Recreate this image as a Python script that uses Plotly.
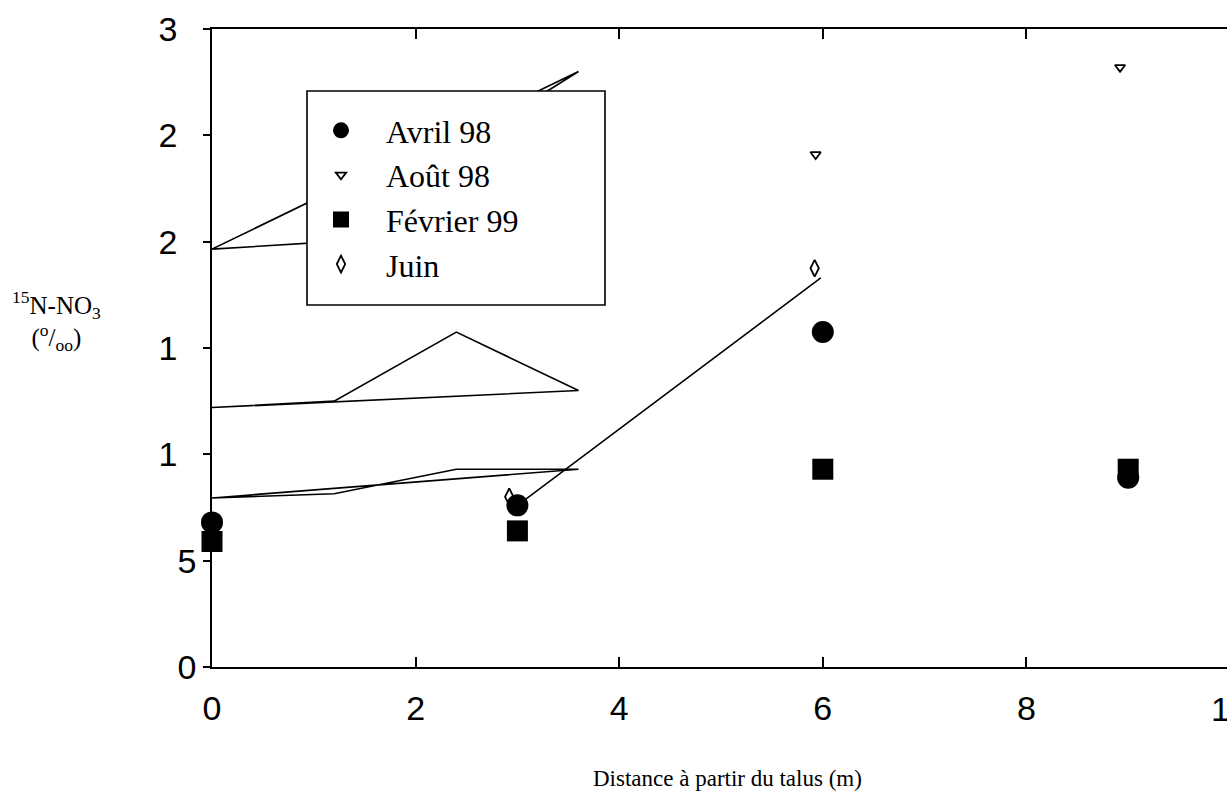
import plotly.graph_objects as go

# ---- data ----
avril_x = [0, 3, 6, 9]
avril_y = [6.8, 7.6, 15.75, 8.9]

aout_x = [-0.07, 5.93, 8.92]
aout_y = [7.45, 24.1, 28.2]

fevrier_x = [0, 3, 6, 9]
fevrier_y = [5.9, 6.4, 9.3, 9.3]

juin_x = [2.92, 5.92]
juin_y = [8.0, 18.75]

# fitted line near Juin
fit_x = [3.07, 5.98]
fit_y = [7.85, 18.3]

# closed polyline shapes drawn on the chart
poly_x = [0, 1.2, 2.4, 3.6, 0]
poly_low_y = [7.95, 8.15, 9.3, 9.3, 7.95]
poly_mid_y = [12.2, 12.5, 15.75, 13.0, 12.2]
poly_up_y = [19.65, 20.0, 24.4, 28.0, 19.65]

y_tickvals = [0, 5, 10, 15, 20, 25, 30]
y_ticktext = ["0", "5", "1\u2007", "1\u2007", "2\u2007", "2\u2007", "3\u2007"]
x_tickvals = [0, 2, 4, 6, 8]
x_ticktext = ["0", "2", "4", "6", "8"]

W, H = 1227, 804
L, R, T, B = 212, 0, 29, 137
pw, ph = W - L - R, H - T - B
px_per_x = 101.8

fig = go.Figure()

line_style = dict(color="black", width=1.6)
for py in (poly_low_y, poly_mid_y, poly_up_y):
    fig.add_trace(go.Scatter(x=poly_x, y=py, mode="lines", line=line_style,
                             showlegend=False, hoverinfo="skip"))
fig.add_trace(go.Scatter(x=fit_x, y=fit_y, mode="lines", line=line_style,
                         showlegend=False, hoverinfo="skip"))

fig.add_trace(go.Scatter(x=aout_x, y=aout_y, mode="markers", name="Août 98", legendrank=2,
                         marker=dict(symbol="triangle-down-open", size=9, color="black",
                                     line=dict(width=1.8, color="black")),
                         cliponaxis=False))
fig.add_trace(go.Scatter(x=avril_x, y=avril_y, mode="markers", name="Avril 98", legendrank=1,
                         marker=dict(symbol="circle", size=22, color="black"),
                         cliponaxis=False))
fig.add_trace(go.Scatter(x=fevrier_x, y=fevrier_y, mode="markers", name="Février 99", legendrank=3,
                         marker=dict(symbol="square", size=21, color="black"),
                         cliponaxis=False))
fig.add_trace(go.Scatter(x=juin_x, y=juin_y, mode="markers", name="Juin", legendrank=4,
                         marker=dict(symbol="diamond-tall-open", size=12, color="black",
                                     line=dict(width=1.8, color="black")),
                         cliponaxis=False))

def pxx(p):
    return (p - L) / pw

def pxy(p):
    return (H - B - p) / ph

# legend frame
fig.add_shape(type="rect", xref="paper", yref="paper",
              x0=pxx(307), x1=pxx(605), y0=pxy(305), y1=pxy(91),
              fillcolor="white", line=dict(color="black", width=1.6), layer="above")

serif = "Liberation Serif, Times New Roman, serif"
sans = "Liberation Sans, Arial, sans-serif"

fig.update_layout(
    width=W, height=H,
    margin=dict(l=L, r=R, t=T, b=B),
    paper_bgcolor="white", plot_bgcolor="white",
    showlegend=True,
    legend=dict(x=pxx(296), y=pxy(103), xanchor="left", yanchor="top",
                bgcolor="rgba(0,0,0,0)", borderwidth=0, itemwidth=80,
                font=dict(family=serif, size=32, color="black"),
                itemsizing="trace"),
    xaxis=dict(range=[0, pw / px_per_x], tickvals=x_tickvals, ticktext=x_ticktext,
               ticks="inside", ticklen=10, tickwidth=1.6, tickcolor="black",
               showline=True, linecolor="black", linewidth=1.6, mirror="ticks",
               showgrid=False, zeroline=False, ticklabelstandoff=10,
               tickfont=dict(family=sans, size=34, color="black")),
    yaxis=dict(range=[0, 30], tickvals=y_tickvals, ticktext=y_ticktext,
               ticks="outside", ticklen=7, tickwidth=1.6, tickcolor="black",
               showline=True, linecolor="black", linewidth=1.6, mirror=False,
               showgrid=False, zeroline=False,
               tickfont=dict(family=sans, size=34, color="black")),
)

# truncated "10" tick label at the right edge
fig.add_annotation(xref="paper", yref="paper", x=(10 * px_per_x) / pw, y=pxy(709),
                   text="1\u2007", showarrow=False, xanchor="center", yanchor="middle",
                   font=dict(family=sans, size=34, color="black"))

fig.add_annotation(xref="paper", yref="paper", x=pxx(56), y=pxy(321),
                   text="<sup>15</sup>N-NO<sub>3</sub><br>(<sup>o</sup>/<sub>oo</sub>)",
                   showarrow=False, xanchor="center", yanchor="middle", align="center",
                   font=dict(family=serif, size=25, color="black"))

fig.add_annotation(xref="paper", yref="paper", x=pxx(727), y=pxy(778),
                   text="Distance à partir du talus (m)",
                   showarrow=False, xanchor="center", yanchor="middle",
                   font=dict(family=serif, size=23, color="black"))

fig.write_html("out.html")
